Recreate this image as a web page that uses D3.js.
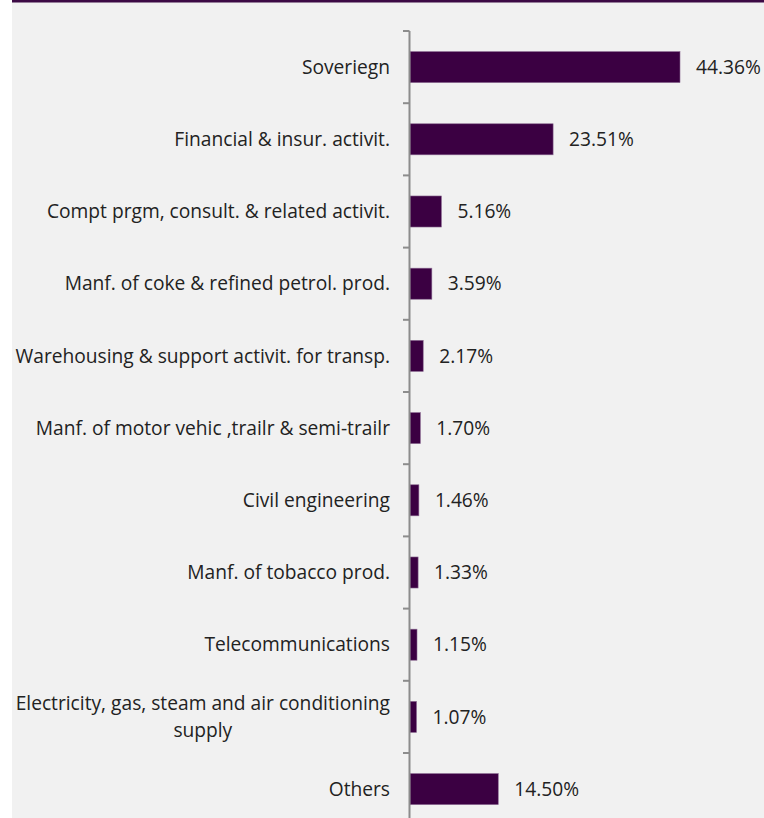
<!DOCTYPE html>
<html>
<head>
<meta charset="utf-8">
<script src="https://cdn.jsdelivr.net/npm/d3@7"></script>
<style>
  html, body { margin: 0; padding: 0; background: #ffffff; }
  svg { display: block; }
  text { font-family: "Open Sans", "Noto Sans", sans-serif; fill: #222; }
</style>
</head>
<body>
<svg id="chart" width="764" height="818"></svg>
<script>
// Data
const categories = [
  "Soveriegn",
  "Financial & insur. activit.",
  "Compt prgm, consult. & related activit.",
  "Manf. of coke & refined petrol. prod.",
  "Warehousing & support activit. for transp.",
  "Manf. of motor vehic ,trailr & semi-trailr",
  "Civil engineering",
  "Manf. of tobacco prod.",
  "Telecommunications",
  "Electricity, gas, steam and air conditioning|supply",
  "Others"
];
const shares = [44.36, 23.51, 5.16, 3.59, 2.17, 1.70, 1.46, 1.33, 1.15, 1.07, 14.50];

const width = 764, height = 818;
const fontSize = "19.2px";
const svg = d3.select("#chart");

// Background panel + top rule
svg.append("rect").attr("x", 12).attr("y", 0).attr("width", width - 12).attr("height", height).attr("fill", "#f1f1f1");
svg.append("rect").attr("x", 12).attr("y", 0).attr("width", width - 12).attr("height", 2.5).attr("fill", "#3d0a45");

const axisX = 410;
const x = d3.scaleLinear().domain([0, 44.36]).range([axisX, 680]);
const y = d3.scaleBand().domain(categories).range([31, 31 + 72.2 * categories.length]).paddingInner(0.57).paddingOuter(0.285);

const g = svg.append("g");

// Bars
g.selectAll("rect.bar")
  .data(categories)
  .enter().append("rect")
  .attr("class", "bar")
  .attr("x", x(0))
  .attr("y", d => y(d))
  .attr("width", (d, i) => x(shares[i]) - x(0))
  .attr("height", y.bandwidth())
  .attr("fill", "#3b0042")
  .attr("stroke", "#8b6a92")
  .attr("stroke-width", 0.6);

// Value labels
g.selectAll("text.val")
  .data(categories)
  .enter().append("text")
  .attr("class", "val")
  .attr("x", (d, i) => x(shares[i]) + 16)
  .attr("y", d => y(d) + y.bandwidth() / 2)
  .attr("dy", "0.35em")
  .style("font-size", fontSize)
  .text((d, i) => shares[i].toFixed(2) + "%");

// Axis line and ticks
const step = y.step();
g.append("line")
  .attr("x1", axisX - 0.5).attr("x2", axisX - 0.5)
  .attr("y1", 31).attr("y2", height)
  .attr("stroke", "#8c8c8c").attr("stroke-width", 2);
d3.range(categories.length + 1).forEach(k => {
  const ty = 31 + k * step;
  g.append("line")
    .attr("x1", axisX - 7).attr("x2", axisX - 0.5)
    .attr("y1", ty).attr("y2", ty)
    .attr("stroke", "#8c8c8c").attr("stroke-width", 2);
});

// Category labels (wrapped lines centred as a block, right aligned)
const labelRight = 390;
categories.forEach(c => {
  const lines = c.split("|");
  const cy = y(c) + y.bandwidth() / 2;
  const t = g.append("text")
    .style("font-size", fontSize);
  if (lines.length === 1) {
    t.attr("x", labelRight).attr("y", cy).attr("dy", "0.35em")
      .attr("text-anchor", "end").text(lines[0]);
  } else {
    t.attr("text-anchor", "middle");
    const spans = lines.map((l, i) => t.append("tspan")
      .attr("y", cy + (i - (lines.length - 1) / 2) * 27)
      .attr("dy", "0.35em")
      .text(l));
    const w = d3.max(spans, s => s.node().getComputedTextLength());
    spans.forEach(s => s.attr("x", labelRight - w / 2));
  }
});
</script>
</body>
</html>
